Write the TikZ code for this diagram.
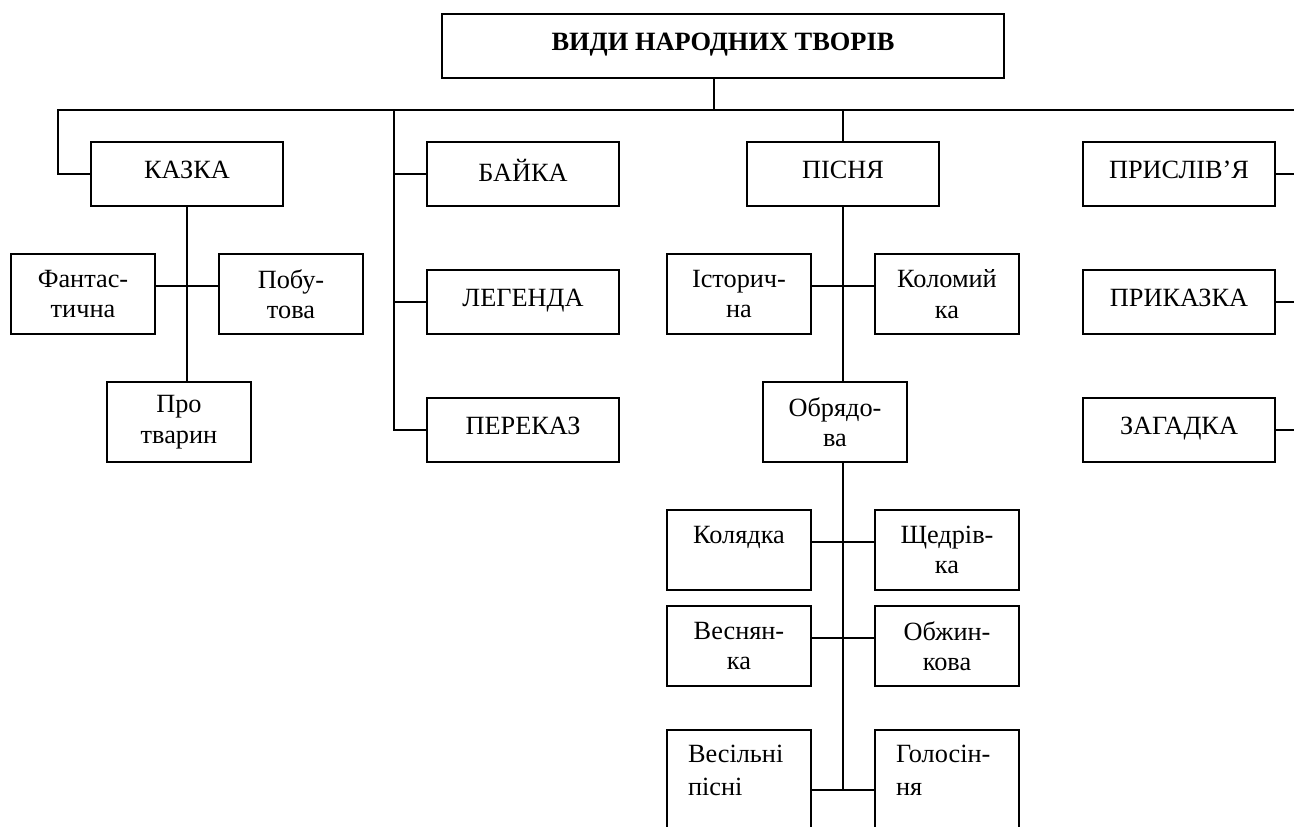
\documentclass[tikz,border=0pt]{standalone}
\usepackage{fontspec}
\setmainfont{Liberation Serif}
\usetikzlibrary{positioning}
\tikzstyle{box} = [rectangle, draw, line width=2pt, align=center, minimum width=144pt, minimum height=80pt, inner sep=2pt, font=\fontsize{26.3pt}{30.5pt}\selectfont]
\tikzstyle{kind} = [box, minimum width=192pt, minimum height=64pt, text depth=8pt]
\tikzstyle{tall} = [rectangle, draw, line width=2pt, minimum width=144pt, minimum height=120pt, inner xsep=21pt, inner ysep=15pt, font=\fontsize{26.3pt}{33pt}\selectfont]
\tikzstyle{link} = [line width=2pt]

\begin{document}
\begin{tikzpicture}[node distance=62pt and 142pt]

	\useasboundingbox (0,0) rectangle (1294pt,-827pt);
	\clip (0,0) rectangle (1294pt,-827pt);

	% Title
	\node (title) [kind, minimum width=562pt, font=\bfseries\fontsize{26.4pt}{30.5pt}\selectfont] at (723pt,-46pt) {ВИДИ НАРОДНИХ ТВОРІВ};

	% First level
	\node (kazka) [kind, below left=62pt and 157pt of title] {КАЗКА};
	\node (bajka) [kind, right=142pt of kazka] {БАЙКА};
	\node (pisnia) [kind, right=126pt of bajka] {ПІСНЯ};
	\node (prysliv) [kind, right=142pt of pisnia] {ПРИСЛІВ’Я};

	% Second column
	\node (legenda) [kind, below=62pt of bajka] {ЛЕГЕНДА};
	\node (perekaz) [kind, below=62pt of legenda] {ПЕРЕКАЗ};

	% Right column
	\node (prykazka) [kind, below=62pt of prysliv] {ПРИКАЗКА};
	\node (zagadka) [kind, below=62pt of prykazka] {ЗАГАДКА};

	% Kazka - kinds
	\node (fant) [box, below left=46pt and 31pt of kazka.south] {Фантас-\\тична};
	\node (pob) [box, below right=46pt and 31pt of kazka.south] {Побу-\\това};
	\node (pro) [box, below=174pt of kazka, xshift=-8pt] {Про\\тварин};

	% Pisnia - kinds
	\node (istor) [box, below left=46pt and 31pt of pisnia.south] {Історич-\\на};
	\node (kolom) [box, below right=46pt and 31pt of pisnia.south] {Коломий\\ка};
	\node (obr) [box, below=174pt of pisnia, xshift=-8pt] {Обрядо-\\ва};

	% Obriadova - kinds
	\node (koliad) [box, below=174pt of istor] {Колядка\\\mbox{}};
	\node (shched) [box, below=174pt of kolom] {Щедрів-\\ка};
	\node (vesn) [box, below=14pt of koliad] {Веснян-\\ка};
	\node (obzh) [box, below=14pt of shched] {Обжин-\\кова};
	\node (vesil) [tall, below=42pt of vesn] {\parbox[t][90pt][t]{102pt}{\raggedright Весільні\\пісні}};
	\node (holos) [tall, below=42pt of obzh] {\parbox[t][90pt][t]{102pt}{\raggedright Голосін-\\ня}};

	% Bus lines
	\path ([xshift=-9pt]title.south) ++(0,-31pt) coordinate (hub);
	\path (prysliv.east) ++(35pt,0) coordinate (rb);
	\path (bajka.west) ++(-32pt,0) coordinate (b2);
	\draw[link] ([xshift=-9pt]title.south) -- (hub);
	\draw[link] (kazka.west) -- ++(-32pt,0) |- (hub) -| (rb) |- (zagadka.east);
	\draw[link] (prysliv.east) -- (rb);
	\draw[link] (prykazka.east) -- (prykazka.east -| rb);
	\draw[link] (b2 |- hub) |- (perekaz.west);
	\draw[link] (b2) -- (bajka.west);
	\draw[link] (legenda.west -| b2) -- (legenda.west);
	\draw[link] (pisnia.north |- hub) -- (pisnia.north);

	% Links - Kazka
	\draw[link] (kazka.south) -- ([xshift=8pt]pro.north);
	\draw[link] ([yshift=8pt]fant.east) -- ([yshift=8pt]pob.west);

	% Links - Pisnia
	\draw[link] (pisnia.south) -- ([xshift=8pt]obr.north);
	\draw[link] ([yshift=8pt]istor.east) -- ([yshift=8pt]kolom.west);
	\draw[link] ([xshift=8pt]obr.south) |- (vesil.east);
	\draw[link] ([yshift=8pt]koliad.east) -- ([yshift=8pt]shched.west);
	\draw[link] ([yshift=8pt]vesn.east) -- ([yshift=8pt]obzh.west);
	\draw[link] (vesil.east) -- (holos.west);

\end{tikzpicture}
\end{document}
